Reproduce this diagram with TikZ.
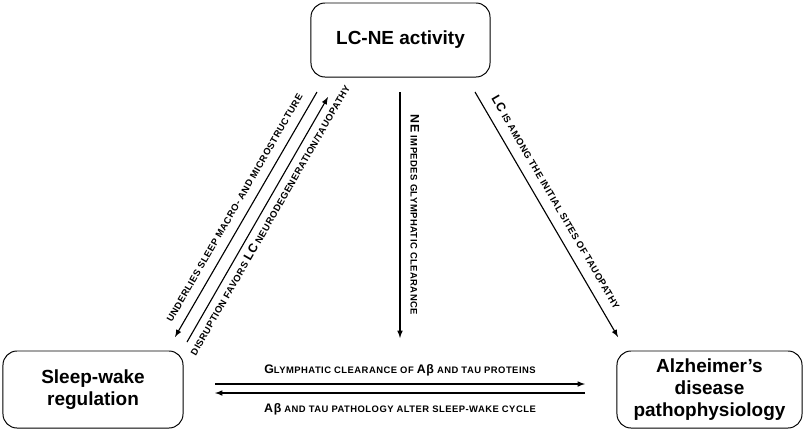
\documentclass[tikz,border=0pt]{standalone}
\usepackage{fontspec}
\setmainfont{Liberation Sans}
\newfontfamily\widefont{Liberation Sans}[LetterSpace=5]
\newcommand{\smc}[1]{{\fontsize{6.7}{7}\selectfont #1}}
\tikzset{
	box/.style={draw, line width=0.7pt, rounded corners=10pt, align=center, font=\fontsize{13.5}{15.5}\selectfont\bfseries},
	link/.style={arrows={-latex}, line width=0.8pt},
	tag/.style={font=\fontsize{8.8}{9}\selectfont\widefont\bfseries, inner sep=1pt}
}

\begin{document}
\begin{tikzpicture}[x=0.025cm, y=-0.025cm]
	\useasboundingbox (0,0) rectangle (804,430);
	\node [box, minimum width=4.475cm, minimum height=1.85cm] (lcne) at (400.5,40) {LC-NE activity};
	\node [box, minimum width=4.5cm, minimum height=1.925cm] (sleep) at (93,389.5) {Sleep-wake\\regulation};
	\node [box, minimum width=4.625cm, minimum height=1.925cm] (ad) at (709.5,389.5) {Alzheimer's\\disease\\pathophysiology};
	\coordinate (u1) at (317,92);
	\coordinate (u2) at (175,337);
	\coordinate (d1) at (187,342);
	\coordinate (d2) at (328,97);
	\coordinate (n1) at (400,92);
	\coordinate (n2) at (400,338);
	\coordinate (t1) at (475,92);
	\coordinate (t2) at (618,337);
	\coordinate (g1) at (215,384);
	\coordinate (g2) at (585,384);
	\coordinate (p1) at (585,393);
	\coordinate (p2) at (215,393);
	\draw [link] (u1) -- (u2) node [tag, midway, sloped, above=5.5pt] {\smc{UNDERLIES SLEEP MACRO- AND MICROSTRUCTURE}};
	\draw [link] (d1) -- (d2) node [tag, pos=0.52, sloped, below=3pt] {\smc{DISRUPTION FAVORS }LC\smc{ NEURODEGENERATION/TAUOPATHY}};
	\draw [link] (n1) -- (n2) node [tag, midway, sloped, above=6pt] {NE\smc{ IMPEDES GLYMPHATIC CLEARANCE}};
	\draw [link] (t1) -- (t2) node [tag, pos=0.48, sloped, above=6pt] {LC\smc{ IS AMONG THE INITIAL SITES OF TAUOPATHY}};
	\draw [link] (g1) -- (g2) node [tag, midway, above=4pt] {G\smc{LYMPHATIC CLEARANCE OF }Aβ\smc{ AND TAU PROTEINS}};
	\draw [link] (p1) -- (p2) node [tag, midway, below=6pt] {Aβ\smc{ AND TAU PATHOLOGY ALTER SLEEP-WAKE CYCLE}};
\end{tikzpicture}
\end{document}
